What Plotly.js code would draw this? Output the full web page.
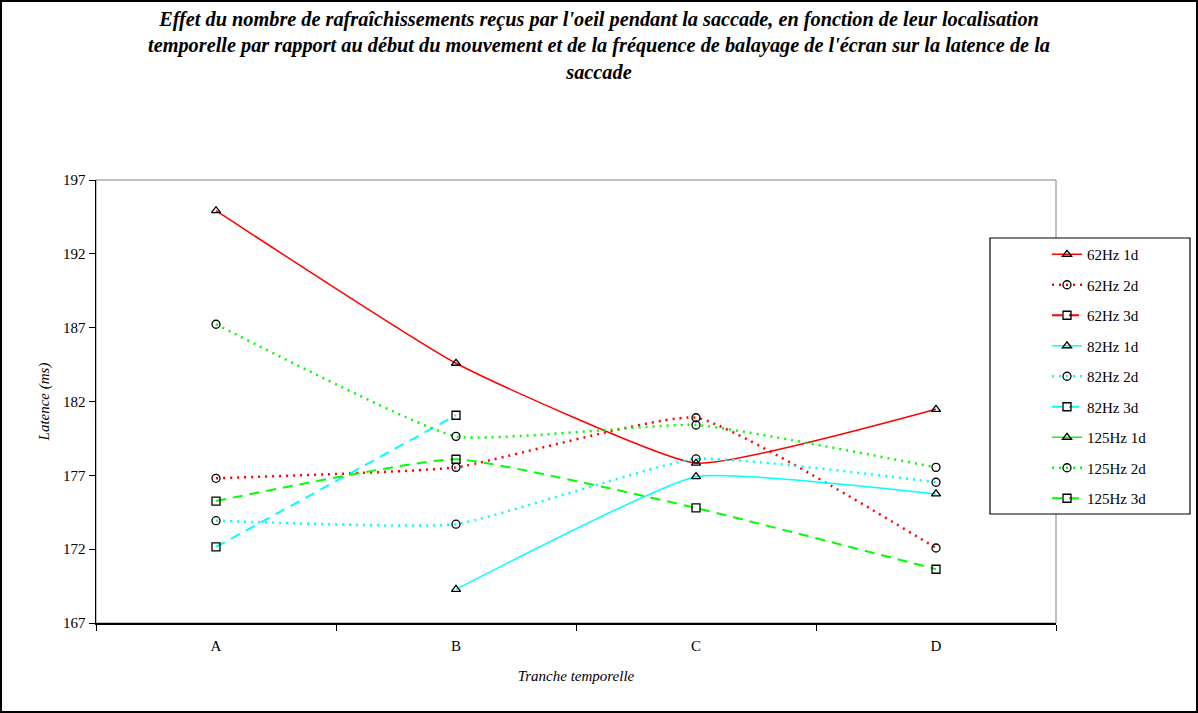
<!DOCTYPE html>
<html>
<head>
<meta charset="utf-8">
<script src="https://cdn.plot.ly/plotly-3.0.1.min.js"></script>
<style>
html,body{margin:0;padding:0;background:#fff;}
#chart{width:1198px;height:713px;}
</style>
</head>
<body>
<div id="chart"></div>
<script>
var categories = ["A", "B", "C", "D"];

var hz62_1d = [194.92, 184.59, 177.82, 181.47];
var hz62_2d = [176.80, 177.54, 180.90, 172.08];
var hz62_3d = [null, null, null, null];
var hz82_1d = [null, 169.28, 176.91, 175.74];
var hz82_2d = [173.93, 173.69, 178.11, 176.53];
var hz82_3d = [172.15, 181.07, null, null];
var hz125_1d = [null, null, null, null];
var hz125_2d = [187.23, 179.64, 180.41, 177.54];
var hz125_3d = [175.26, 178.09, 174.79, 170.64];

var seriesNames = ["62Hz 1d","62Hz 2d","62Hz 3d","82Hz 1d","82Hz 2d","82Hz 3d","125Hz 1d","125Hz 2d","125Hz 3d"];
var seriesData = [hz62_1d,hz62_2d,hz62_3d,hz82_1d,hz82_2d,hz82_3d,hz125_1d,hz125_2d,hz125_3d];

var colors = ["#ff0000","#ff0000","#ff0000","#00ffff","#00ffff","#00ffff","#00ff00","#00ff00","#00ff00"];
var dashes = ["solid","2px,5px","10px,7px","solid","2px,5px","10px,7px","solid","2px,5px","10px,7px"];
var widths = [1.5,2.5,2,1.5,2.5,2,1.5,2.5,2];
var symbols = ["triangle-up","circle","square","triangle-up","circle","square","triangle-up","circle","square"];

var traces = seriesNames.map(function(n,i){
  return {
    type:"scatter", mode:"lines+markers", name:n, x:categories, y:seriesData[i],
    legendgroup:"g"+i,
    connectgaps:false,
    line:{color:colors[i], dash:dashes[i], width:widths[i], shape:"spline", smoothing:0.4},
    marker:{symbol:symbols[i], size:8, color:"rgba(255,255,255,0)", line:{color:"#000", width:1.3}}
  };
});

var ff = "Liberation Serif";
var layout = {
  width:1198, height:713,
  margin:{l:96, r:142, t:180, b:90},
  paper_bgcolor:"#fff", plot_bgcolor:"#fff",
  font:{family:ff, size:15, color:"#000"},
  title:{
    text:"Effet du nombre de rafraîchissements reçus par l'oeil pendant la saccade, en fonction de leur localisation<br>temporelle par rapport au début du mouvement et de la fréquence de balayage de l'écran sur la latence de la<br>saccade",
    font:{family:ff, size:20.3, color:"#000", style:"italic", weight:"bold"},
    x:0.5, xref:"container", xanchor:"center",
    y:1-26/713, yref:"container", yanchor:"middle"
  },
  xaxis:{
    type:"category", range:[-0.5,3.5], tickson:"boundaries",
    ticks:"outside", ticklen:6, tickcolor:"#000", tickwidth:1,
    showline:true, linecolor:"#000", linewidth:1.5, showgrid:false, zeroline:false,
    tickfont:{family:ff, size:15}, ticklabelstandoff:8,
    title:{text:"Tranche temporelle", font:{family:ff, size:15, style:"italic"}, standoff:18}
  },
  yaxis:{
    range:[167,197], tick0:167, dtick:5,
    ticks:"outside", ticklen:6, tickcolor:"#000", tickwidth:1,
    showline:true, linecolor:"#000", linewidth:1.5, showgrid:false, zeroline:false,
    tickfont:{family:ff, size:15},
    title:{text:"Latence (ms)", font:{family:ff, size:15, style:"italic"}, standoff:10}
  },
  legend:{
    x:(1047-96)/960, y:(623-238)/443, xanchor:"left", yanchor:"top",
    bgcolor:"rgba(0,0,0,0)", borderwidth:0,
    font:{family:ff, size:15}, tracegroupgap:8
  },
  shapes:[
    {type:"rect", xref:"paper", yref:"paper", x0:0, x1:1, y0:0, y1:1, line:{color:"#808080", width:1}, layer:"below"},
    {type:"rect", xref:"paper", yref:"paper", x0:(990-96)/960, x1:(1190-96)/960, y0:(623-514)/443, y1:(623-238)/443, line:{color:"#000", width:1.2}, fillcolor:"#fff", layer:"above"},
    {type:"rect", xref:"paper", yref:"paper", x0:(1-96)/960, x1:(1197-96)/960, y0:(623-712)/443, y1:(623-1)/443, line:{color:"#000", width:2}}
  ],
  showlegend:true
};

Plotly.newPlot("chart", traces, layout, {displayModeBar:false, staticPlot:true});
</script>
</body>
</html>
